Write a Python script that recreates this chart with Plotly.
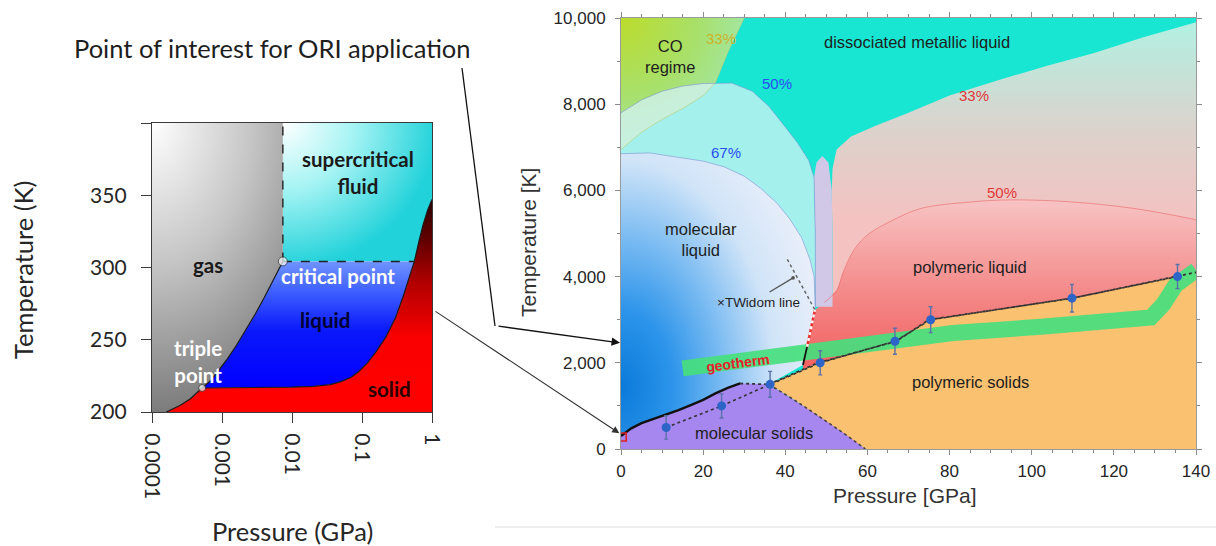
import math
import plotly.graph_objects as go

# ===================== DATA : left panel (CO2, low pressure) =====================
left_p_range = [1e-4, 1.0]          # GPa (log axis)
left_t_range = [200, 400]           # K
left_p_ticks = [1e-4, 1e-3, 1e-2, 1e-1, 1.0]
left_p_tick_text = ["0.0001", "0.001", "0.01", "0.1", "1"]
left_t_ticks = [200, 250, 300, 350, 400]
left_t_tick_text = ["200", "250", "300", "350", ""]

triple_p, triple_t = 5.2e-4, 216.6
critical_p, critical_t = 7.4e-3, 304.2

sublimation_p = [1.6e-4, 2.5e-4, 3.5e-4, 4.4e-4, 5.2e-4]
sublimation_t = [200.0, 204.5, 209.0, 213.0, 216.6]

vaporization_p = [5.2e-4, 7e-4, 9e-4, 1.2e-3, 1.6e-3, 2.2e-3, 3e-3, 4e-3, 5.2e-3, 7.4e-3]
vaporization_t = [216.6, 222, 229, 237, 246, 257, 268, 279, 290, 304.2]

melting_p = [5.2e-4, 1e-3, 3e-3, 1e-2, 2e-2, 3.5e-2, 5e-2, 7e-2, 9e-2, 0.12, 0.16,
             0.22, 0.3, 0.4, 0.5, 0.56, 0.65, 0.75, 0.87, 1.0]
melting_t = [216.6, 216.7, 216.9, 217.2, 217.8, 219, 221, 224, 228, 234, 242,
             252, 265, 282, 297, 304.2, 318, 330, 340, 347]

# ===================== DATA : right panel (CO2, high pressure) =====================
right_p_range = [0, 140]
right_t_range = [0, 10000]
right_p_ticks = [0, 20, 40, 60, 80, 100, 120, 140]
right_t_ticks = [0, 2000, 4000, 6000, 8000, 10000]
right_t_tick_text = ["0", "2,000", "4,000", "6,000", "8,000", "10,000"]

# CO-regime boundary
co_p = [0, 5, 10, 15, 20, 23, 26, 28, 30]
co_t = [6950, 7350, 7650, 7900, 8200, 8500, 9200, 9600, 10000]
# 50 % contour (top of the pale band)
b50_p = [0, 5, 10, 15, 20, 27, 32, 36, 40, 43, 45.7, 47.0, 47.3, 47.3]
b50_t = [7800, 8100, 8300, 8420, 8480, 8490, 8300, 7950, 7470, 7100, 6700, 6300, 5000, 3300]
# 67 % contour (molecular liquid)
b67_p = [0, 7, 13, 20, 25, 30, 34, 38, 41, 44, 46, 47.0, 47.3]
b67_t = [6850, 6870, 6780, 6680, 6550, 6330, 6050, 5700, 5350, 4900, 4400, 4000, 3300]
# 33 % contour (right-hand region)
b33_p = [51.5, 51.5, 51.3, 51.5, 52.5, 56, 62, 70, 80, 92, 104, 115, 127, 140]
b33_t = [3300, 5000, 6000, 6500, 6950, 7250, 7500, 7800, 8200, 8560, 8900, 9180, 9550, 9900]
# narrow channel between the 50 % and 33 % contours
channel_p = [47.3, 47.3, 47.0, 47.6, 49.0, 50.5, 51.3, 51.5, 51.5]
channel_t = [3300, 5000, 6300, 6650, 6800, 6650, 6000, 5000, 3300]
# 50 % red contour (polymeric liquid)
poly_liq_p = [49.5, 52.6, 54, 56, 58, 60.6, 66, 73, 85, 95, 110, 125, 140]
poly_liq_t = [3400, 3690, 4080, 4500, 4780, 5010, 5300, 5580, 5730, 5780, 5730, 5580, 5320]
# liquid-liquid line: black lower part, red/white dashed upper part
seg_p = [44.3, 45.3]
seg_t = [1950, 2370]
llt_p = [45.3, 46.2, 47.2]
llt_t = [2370, 2800, 3225]
# Widom line
widom_p = [40.5, 42.5, 44.5, 46.0, 47.2]
widom_t = [4400, 4050, 3700, 3450, 3230]
# molecular-solid melting line
mol_melt_p = [0, 2.5, 5, 8, 11, 14, 17, 20, 23, 26, 29]
mol_melt_t = [300, 480, 600, 700, 790, 900, 1020, 1140, 1290, 1420, 1520]
# polymeric melting line (dotted)
poly_melt_p = [36, 48, 67, 75, 110, 135, 140]
poly_melt_t = [1500, 2000, 2500, 3000, 3500, 4000, 4100]
# molecular / polymeric solid boundary (dotted)
solid_sep_p = [36, 42, 48, 54, 59.5]
solid_sep_t = [1500, 1150, 770, 380, 0]
# geotherm
geo_p = [15, 30, 45.6, 66.7, 80.8, 103, 124.4, 129, 132, 135, 140]
geo_t = [1870, 2070, 2260, 2530, 2690, 2840, 2950, 3050, 3350, 3800, 4150]
# measured melting points with error bars
meas_p = [11, 24.5, 36.3, 48.5, 66.7, 75.4, 109.8, 135.5]
meas_t = [500, 1000, 1500, 2000, 2500, 3000, 3500, 4000]
meas_err = [270, 280, 300, 280, 300, 300, 320, 280]
# point of interest (red square)
poi_p, poi_t = [0.3], [280]

# ===================== helpers =====================
def glow_anchor(px, py, cx, cy, rx, ry, logx=False):
    """Radial fill gradients are centred on the bounding box of the fill;
    append zero-area spikes from the last vertex (cx, cy) so the box is centred there."""
    if logx:
        lx = math.log10(cx)
        tx = [10 ** (lx - rx), 10 ** (lx + rx)]
    else:
        tx = [cx - rx, cx + rx]
    ty = [cy - ry, cy + ry]
    return px + [tx[0], cx, tx[1], cx], py + [ty[0], cy, ty[1], cy]


def area(px, py, xa, ya, color=None, grad=None):
    return go.Scatter(x=px, y=py, xaxis=xa, yaxis=ya, mode="none", fill="toself",
                      fillcolor=color, fillgradient=grad, line=dict(simplify=False),
                      hoverinfo="skip", showlegend=False)


def curve(px, py, xa, ya, color, width, dash="solid", shape="linear"):
    return go.Scatter(x=px, y=py, xaxis=xa, yaxis=ya, mode="lines",
                      line=dict(color=color, width=width, dash=dash, shape=shape),
                      hoverinfo="skip", showlegend=False)


fig = go.Figure()

# ===================== left panel regions =====================
pmin, pmax = left_p_range
tmin, tmax = left_t_range
i_c = melting_t.index(critical_t)

# supercritical fluid
sc_p = [critical_p] + melting_p[i_c:] + [pmax, critical_p]
sc_t = [critical_t] + melting_t[i_c:] + [tmax, tmax]
sc_p, sc_t = glow_anchor(sc_p, sc_t, critical_p, tmax, 2.2, 100, logx=True)
fig.add_trace(area(sc_p, sc_t, "x", "y", grad=dict(
    type="radial", colorscale=[[0, "#ffffff"], [0.45, "#a8f4f4"], [1, "#22d2da"]])))

# gas
gas_p = [pmin] + sublimation_p + vaporization_p[1:] + [critical_p, pmin]
gas_t = [tmin] + sublimation_t + vaporization_t[1:] + [tmax, tmax]
gas_p, gas_t = glow_anchor(gas_p, gas_t, pmin, tmax, 2.9, 200, logx=True)
fig.add_trace(area(gas_p, gas_t, "x", "y", grad=dict(
    type="radial", colorscale=[[0, "#ffffff"], [0.5, "#c4c4c4"], [1, "#7c7c7c"]])))

# liquid
liq_p = vaporization_p + [melting_p[i_c]] + melting_p[:i_c + 1][::-1]
liq_t = vaporization_t + [critical_t] + melting_t[:i_c + 1][::-1]
fig.add_trace(area(liq_p, liq_t, "x", "y", grad=dict(
    type="vertical", start=triple_t, stop=critical_t,
    colorscale=[[0, "#0000ff"], [0.45, "#0a18fa"], [0.75, "#3c5cff"], [1, "#7094ff"]])))

# solid
sol_p = sublimation_p + melting_p[1:] + [pmax]
sol_t = sublimation_t + melting_t[1:] + [tmin]
fig.add_trace(area(sol_p, sol_t, "x", "y", grad=dict(
    type="vertical", start=tmin, stop=melting_t[-1],
    colorscale=[[0, "#ff0000"], [0.35, "#fa0000"], [0.6, "#b40000"], [0.8, "#640000"], [1, "#300000"]])))

# boundaries
fig.add_trace(curve(sublimation_p + vaporization_p[1:], sublimation_t + vaporization_t[1:],
                    "x", "y", "#1a1a1a", 1.2))
fig.add_trace(curve(melting_p, melting_t, "x", "y", "#1a1a1a", 1.2))
fig.add_trace(curve([critical_p, critical_p], [critical_t, tmax], "x", "y", "#222222", 1.4, "dash"))
fig.add_trace(curve([critical_p, melting_p[i_c]], [critical_t, critical_t], "x", "y", "#222222", 1.4, "dash"))
fig.add_trace(go.Scatter(x=[critical_p, triple_p], y=[critical_t, triple_t], xaxis="x", yaxis="y",
                         mode="markers", marker=dict(size=[9, 7], color="white",
                                                     line=dict(color="#333333", width=1)),
                         hoverinfo="skip", showlegend=False))

# ===================== right panel regions =====================
rpmin, rpmax = right_p_range
rtmin, rtmax = right_t_range

# CO regime
co_poly_p, co_poly_t = glow_anchor(co_p + [rpmin], co_t + [rtmax], rpmin, rtmax, 34, 3200)
fig.add_trace(area(co_poly_p, co_poly_t, "x2", "y2", grad=dict(
    type="radial", colorscale=[[0, "#bcdc2c"], [0.55, "#a8e06a"], [1, "#a2e8b2"]])))

# pale 50 % band
fig.add_trace(area(b50_p + [rpmin], b50_t + [b50_t[-1]], "x2", "y2", color="rgba(211,243,244,0.75)"))

# 33 % region
fig.add_trace(area(b33_p + [rpmax, b33_p[0]], b33_t + [rtmin, rtmin], "x2", "y2", grad=dict(
    type="vertical", start=5300, stop=9900,
    colorscale=[[0, "#f4c2c0"], [0.45, "#dcd2cc"], [1, "#b2f0e2"]])))

# polymeric liquid
pl_p = seg_p + llt_p[1:] + poly_liq_p + [rpmax, seg_p[0]]
pl_t = seg_t + llt_t[1:] + poly_liq_t + [rtmin, rtmin]
fig.add_trace(area(pl_p, pl_t, "x2", "y2", grad=dict(
    type="vertical", start=2000, stop=5800,
    colorscale=[[0, "#f26464"], [0.4, "#f48686"], [1, "#f8c4c4"]])))

# channel
fig.add_trace(area(channel_p, channel_t, "x2", "y2", color="#d0c8e6"))

# molecular liquid
edge_p = (seg_p + llt_p[1:])[::-1]
edge_t = (seg_t + llt_t[1:])[::-1]
ml_p = b67_p + edge_p + [poly_melt_p[0], rpmin, rpmin]
ml_t = b67_t + edge_t + [poly_melt_t[0], rtmin, 1440]
ml_p, ml_t = glow_anchor(ml_p, ml_t, rpmin, 1440, 50, 7000)
fig.add_trace(area(ml_p, ml_t, "x2", "y2", grad=dict(
    type="radial", colorscale=[[0, "#0a7ada"], [0.25, "#2c94ea"], [0.5, "#7cbcf2"],
                               [0.75, "#d0e4f8"], [1, "#e8eefa"]])))

# polymeric solids
ps_p = poly_melt_p + [rpmax] + solid_sep_p[::-1]
ps_t = poly_melt_t + [rtmin] + solid_sep_t[::-1]
fig.add_trace(area(ps_p, ps_t, "x2", "y2", color="#f9c170"))

# molecular solids
ms_p = mol_melt_p + solid_sep_p + [rpmin]
ms_t = mol_melt_t + solid_sep_t + [rtmin]
fig.add_trace(area(ms_p, ms_t, "x2", "y2", color="#a687f0"))

# soft contour lines
fig.add_trace(curve(co_p, co_t, "x2", "y2", "rgba(190,205,110,0.6)", 1))
fig.add_trace(curve(b50_p, b50_t, "x2", "y2", "rgba(120,140,210,0.55)", 1))
fig.add_trace(curve(b67_p, b67_t, "x2", "y2", "rgba(120,140,210,0.55)", 1))
fig.add_trace(curve(poly_liq_p, poly_liq_t, "x2", "y2", "rgba(235,100,100,0.6)", 1, shape="spline"))

# geotherm band
fig.add_trace(curve(geo_p, geo_t, "x2", "y2", "rgba(70,222,125,0.92)", 16))

# transition lines
fig.add_trace(curve(widom_p, widom_t, "x2", "y2", "#666666", 1.5, "dot"))
fig.add_trace(curve(llt_p, llt_t, "x2", "y2", "#e83030", 2.4))
fig.add_trace(curve(llt_p, llt_t, "x2", "y2", "#ffffff", 2.4, "dot"))
fig.add_trace(curve(seg_p, seg_t, "x2", "y2", "#111111", 1.8))
fig.add_trace(curve(mol_melt_p, mol_melt_t, "x2", "y2", "#111111", 2.4))
fig.add_trace(curve([mol_melt_p[-1], poly_melt_p[0]], [mol_melt_t[-1], poly_melt_t[0]], "x2", "y2", "#333333", 1.8, "dot"))
fig.add_trace(curve(solid_sep_p, solid_sep_t, "x2", "y2", "#444444", 1.6, "dot"))
fig.add_trace(curve(poly_melt_p, poly_melt_t, "x2", "y2", "#333333", 1.8, "dot"))

# measurements
fig.add_trace(go.Scatter(x=meas_p, y=meas_t, xaxis="x2", yaxis="y2", mode="lines+markers",
                         line=dict(color="#333333", width=1.6, dash="dot"),
                         marker=dict(size=9, color="#2d64c8"),
                         error_y=dict(type="data", array=meas_err, color="#5a72a8", thickness=1.4, width=2),
                         hoverinfo="skip", showlegend=False))
fig.add_trace(go.Scatter(x=poi_p, y=poi_t, xaxis="x2", yaxis="y2", mode="markers",
                         marker=dict(symbol="square-open", size=8, color="#e02020", line=dict(width=1.6)),
                         hoverinfo="skip", showlegend=False))

# ===================== annotations =====================
LF = "Lato"
RF = "Liberation Sans"
ann = []


def ltext(txt, p, t, color, size=20.5):
    ann.append(dict(text="<b>" + txt + "</b>", x=math.log10(p), y=t, xref="x", yref="y",
                    showarrow=False, font=dict(family=LF, size=size, color=color)))


ltext("supercritical<br>fluid", 0.087, 366, "#1a1a1a")
ltext("gas", 0.00063, 301.5, "#1a1a1a")
ltext("critical point", 0.045, 294, "#ffffff")
ltext("liquid", 0.030, 264, "#000033")
ltext("triple<br>point", 0.000457, 235, "#ffffff")
ltext("solid", 0.25, 216, "#2a0000")


def rtext(txt, p, t, color="#1e1e1e", size=16.5, angle=0, bold=False):
    ann.append(dict(text=("<b>%s</b>" % txt) if bold else txt, x=p, y=t, xref="x2", yref="y2",
                    showarrow=False, textangle=angle, font=dict(family=RF, size=size, color=color)))


rtext("CO<br>regime", 12, 9100)
rtext("33%", 24.4, 9530, "#cdb22a", 15)
rtext("dissociated metallic liquid", 72, 9450)
rtext("50%", 38, 8490, "#2a4ef0", 15)
rtext("33%", 86, 8210, "#e03838", 15)
rtext("67%", 25.6, 6870, "#2a4ef0", 15)
rtext("50%", 92.8, 5960, "#e03838", 15)
rtext("molecular<br>liquid", 19.5, 4850)
rtext("polymeric liquid", 85, 4220)
rtext("×TWidom line", 33.5, 3410, "#1e1e1e", 13.5)
rtext("polymeric solids", 85, 1550)
rtext("molecular solids", 32.4, 370)
rtext("geotherm", 28.4, 1990, "#e8202a", 14, angle=-7.5, bold=True)

# Widom pointer
ann.append(dict(x=41.9, y=3970, xref="x2", yref="y2", ax=-25, ay=15, showarrow=True,
                arrowhead=6, arrowsize=0.7, arrowwidth=1.3, arrowcolor="#555555", text=""))


def ptext(txt, x, y, family, size, color, angle=0, xanchor="center"):
    ann.append(dict(text=txt, x=x / 1216, y=1 - y / 546, xref="paper", yref="paper",
                    xanchor=xanchor, yanchor="middle", textangle=angle, showarrow=False,
                    font=dict(family=family, size=size, color=color)))


# axis titles and callout text
ptext("Temperature (K)", 23, 270, LF, 25.5, "#262626", angle=-90)
ptext("Pressure (GPa)", 292.5, 531, LF, 25.5, "#262626")
ptext("Temperature [K]", 529, 243, RF, 21, "#333333", angle=-90)
ptext("Pressure [GPa]", 905, 495, RF, 21, "#333333")
ptext("Point of interest for ORI application", 72, 48, LF, 25.5, "#1e1e1e", xanchor="left")

# callout arrows
ann.append(dict(x=0, y=2460, xref="x2", yref="y2", ax=-124, ay=-17, showarrow=True,
                arrowhead=2, arrowsize=1.3, arrowwidth=1.3, arrowcolor="#111111", text="", standoff=1))
ann.append(dict(x=0, y=340, xref="x2", yref="y2", ax=-187, ay=-124, showarrow=True,
                arrowhead=2, arrowsize=1.3, arrowwidth=1.1, arrowcolor="#333333", text="", standoff=2))

shapes = [
    dict(type="rect", xref="x2 domain", yref="y2 domain", x0=0, x1=1, y0=0, y1=1,
         fillcolor="#18e6d2", line=dict(width=0), layer="below"),
    dict(type="line", xref="paper", yref="paper", x0=462 / 1216, y0=1 - 68 / 546,
         x1=495 / 1216, y1=1 - 326 / 546, line=dict(color="#111111", width=1.3)),
    dict(type="line", xref="paper", yref="paper", x0=495 / 1216, y0=1 - 527 / 546,
         x1=1, y1=1 - 527 / 546, line=dict(color="#dddddd", width=1)),
]

lax = dict(showline=True, mirror=True, linecolor="#3a3a3a", linewidth=1.3, ticks="outside",
           ticklen=10, tickwidth=1.3, tickcolor="#3a3a3a", showgrid=False, zeroline=False,
           automargin=False, tickfont=dict(family=LF, size=21, color="#262626"))
rax = dict(showline=True, mirror="allticks", linecolor="#9a9a9a", linewidth=1, ticks="outside",
           ticklen=5, tickwidth=1, tickcolor="#8a8a8a", showgrid=False, zeroline=False,
           automargin=False, tickfont=dict(family=RF, size=17, color="#262626"))

fig.update_layout(
    width=1216, height=546, autosize=False,
    margin=dict(l=0, r=0, t=0, b=0, pad=0, autoexpand=False),
    paper_bgcolor="white", plot_bgcolor="white",
    showlegend=False,
    xaxis=dict(lax, type="log", range=[math.log10(pmin), math.log10(pmax)],
               domain=[152 / 1216, 432 / 1216], anchor="y",
               tickvals=left_p_ticks, ticktext=left_p_tick_text, tickangle=90, ticklabelstandoff=6),
    yaxis=dict(lax, range=left_t_range, domain=[1 - 412 / 546, 1 - 123 / 546], anchor="x",
               tickvals=left_t_ticks, ticktext=left_t_tick_text, ticklabelstandoff=10),
    xaxis2=dict(rax, range=right_p_range, domain=[621 / 1216, 1196 / 1216], anchor="y2",
                tickvals=right_p_ticks, minor=dict(dtick=5, ticks="outside", ticklen=3, tickcolor="#8a8a8a"),
                ticklabelstandoff=2),
    yaxis2=dict(rax, range=right_t_range, domain=[1 - 449 / 546, 1 - 18 / 546], anchor="x2",
                tickvals=right_t_ticks, ticktext=right_t_tick_text,
                minor=dict(dtick=1000, ticks="outside", ticklen=3, tickcolor="#8a8a8a"),
                ticklabelstandoff=6),
    annotations=ann,
    shapes=shapes,
)

fig.write_html("out.html")
